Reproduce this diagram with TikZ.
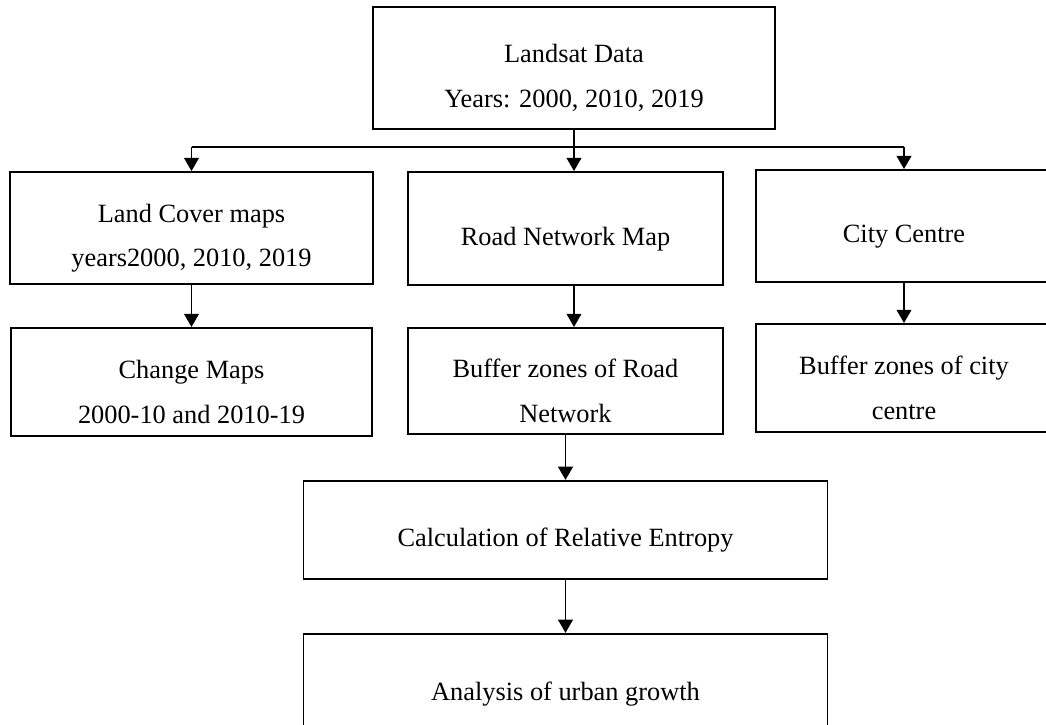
\documentclass[tikz,border=0pt]{standalone}
\usepackage{fontspec}
\setmainfont{Liberation Serif}
\usepackage{tikz}
\usetikzlibrary{positioning,arrows.meta}
\newcommand{\tup}{\rule{0pt}{22pt}}

\begin{document}
\begin{tikzpicture}[node distance=0.84cm,
    box/.style={draw,line width=1.1pt,align=center,inner sep=2pt,
      font=\fontsize{15pt}{25.5pt}\selectfont},
    arr/.style={-{Triangle[width=8.5pt,length=7.5pt]},line width=0.6pt}]
    \useasboundingbox (0,0) rectangle (20.92,-14.5);
    \node[box,minimum width=8.04cm,minimum height=2.44cm] (lsat) at (11.48,-1.36) {\tup Landsat Data\\Years: 2000, 2010, 2019};
    \node[box,minimum width=7.26cm,minimum height=2.24cm] (lcm) at (3.83,-4.56) {\tup Land Cover maps\\years2000, 2010, 2019};
    \node[box,minimum width=6.30cm,minimum height=2.26cm] (rnm) at (11.31,-4.57) {\tup Road Network Map};
    \node[box,minimum width=5.92cm,minimum height=2.24cm] (cc) at (18.08,-4.52) {\tup City Centre};
    \node[box,below=0.84cm of lcm,minimum width=7.22cm,minimum height=2.16cm] (chg) {\tup Change Maps\\2000-10 and 2010-19};
    \node[box,below=0.82cm of rnm,minimum width=6.30cm,minimum height=2.12cm] (bzr) {\tup Buffer zones of Road\\Network};
    \node[box,below=0.80cm of cc,minimum width=5.92cm,minimum height=2.16cm] (bzc) {\tup Buffer zones of city\\centre};
    \node[box,below=0.90cm of bzr,minimum width=10.48cm,minimum height=1.96cm] (calc) {\tup Calculation of Relative Entropy};
    \node[box,below=1.06cm of calc,minimum width=10.48cm,minimum height=2.0cm] (urb) {\tup Analysis of urban growth};
    % distribution line
    \coordinate (bus) at (0,-2.94);
    \draw[line width=0.8pt] (lcm.north |- bus) -- (cc.north |- bus);
    \draw[arr] (lsat.south) -- (lsat.south |- rnm.north);
    \draw[arr] (lcm.north |- bus) -- (lcm.north);
    \draw[arr] (cc.north |- bus) -- (cc.north);
    \draw[arr] (lcm) -- (chg);
    \draw[arr] (lsat.south |- rnm.south) -- (lsat.south |- bzr.north);
    \draw[arr] (cc) -- (bzc);
    \draw[arr] (bzr) -- (calc);
    \draw[arr] (calc) -- (urb);
\end{tikzpicture}
\end{document}
